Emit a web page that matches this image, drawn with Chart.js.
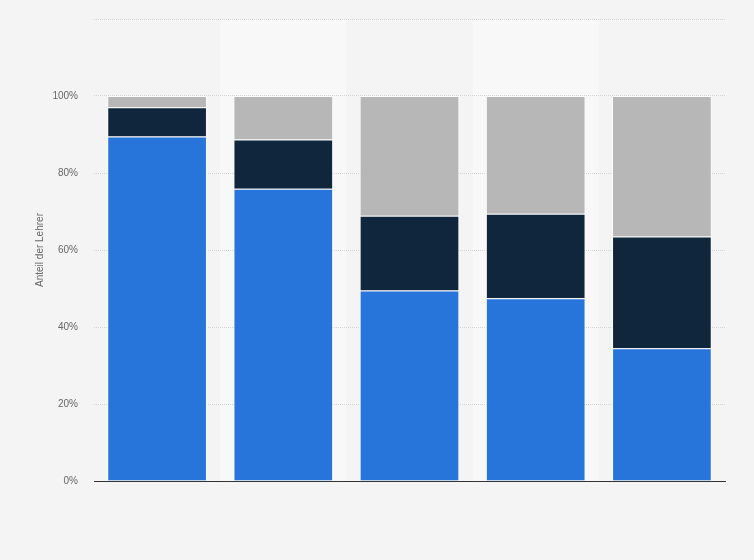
<!DOCTYPE html>
<html>
<head>
<meta charset="utf-8">
<script src="https://cdn.jsdelivr.net/npm/chart.js@4/dist/chart.umd.min.js"></script>
<style>
  body { margin: 0; background: #f4f4f4; }
  canvas { display: block; }
</style>
</head>
<body>
<canvas id="chart" width="754" height="560"></canvas>
<script>
// Kategorien (Beschriftungen sind im Bild nicht sichtbar)
const categories = ['Gruppe 1', 'Gruppe 2', 'Gruppe 3', 'Gruppe 4', 'Gruppe 5'];
// Anteile in Prozent, je Balken
const blueValues = [89.5, 75.9, 49.5, 47.5, 34.5];
const darkValues = [7.6, 12.8, 19.4, 21.9, 29.0];
const grayValues = [2.9, 11.3, 31.1, 30.6, 36.5];
const yTicks = [0, 20, 40, 60, 80, 100];

// Hintergrund + abwechselnd hellere Spalten
const bandsPlugin = {
  id: 'bands',
  beforeDraw(chart) {
    const ctx = chart.ctx;
    const area = chart.chartArea;
    const x = chart.scales.x;
    ctx.save();
    ctx.fillStyle = '#f4f4f4';
    ctx.fillRect(0, 0, chart.width, chart.height);
    const step = (area.right - area.left) / categories.length;
    ctx.fillStyle = '#f8f8f8';
    categories.forEach((c, i) => {
      if (i % 2 === 1) {
        const cx = x.getPixelForValue(i);
        ctx.fillRect(cx - step / 2, area.top, step, area.bottom - area.top);
      }
    });
    ctx.restore();
  }
};

const ctx = document.getElementById('chart').getContext('2d');
new Chart(ctx, {
  type: 'bar',
  data: {
    labels: categories,
    datasets: [
      { data: blueValues, backgroundColor: '#2775db' },
      { data: darkValues, backgroundColor: '#0f263d' },
      { data: grayValues, backgroundColor: '#b7b7b7' }
    ].map(d => Object.assign(d, {
      borderColor: 'rgba(255,255,255,0.75)',
      borderWidth: 1,
      barPercentage: 0.79,
      categoryPercentage: 1
    }))
  },
  options: {
    responsive: false,
    animation: false,
    layout: { padding: { left: 34, right: 29, top: 19, bottom: 71 } },
    plugins: { legend: { display: false }, tooltip: { enabled: false } },
    scales: {
      x: {
        stacked: true,
        ticks: { display: false },
        grid: { display: false },
        border: { color: '#333', width: 1 }
      },
      y: {
        stacked: true,
        min: 0,
        max: 120,
        afterFit(scale) {
          scale.width = 60;
          scale.paddingTop = 0;
          scale.paddingBottom = 0;
        },
        afterBuildTicks(scale) {
          scale.ticks = yTicks.concat([120]).map(v => ({ value: v }));
        },
        ticks: {
          padding: 16,
          color: '#666',
          font: { family: 'Arial, "Liberation Sans", sans-serif', size: 10 },
          callback: v => (v > 100 ? '' : v + '%')
        },
        grid: {
          color: '#d4d4d4',
          drawTicks: false,
          lineWidth: 1
        },
        border: { display: false, dash: [1, 1] },
        title: {
          display: true,
          text: 'Anteil der Lehrer',
          color: '#666',
          padding: { top: 0, bottom: 0 },
          font: { family: 'Arial, "Liberation Sans", sans-serif', size: 10 }
        }
      }
    }
  },
  plugins: [bandsPlugin]
});
</script>
</body>
</html>
